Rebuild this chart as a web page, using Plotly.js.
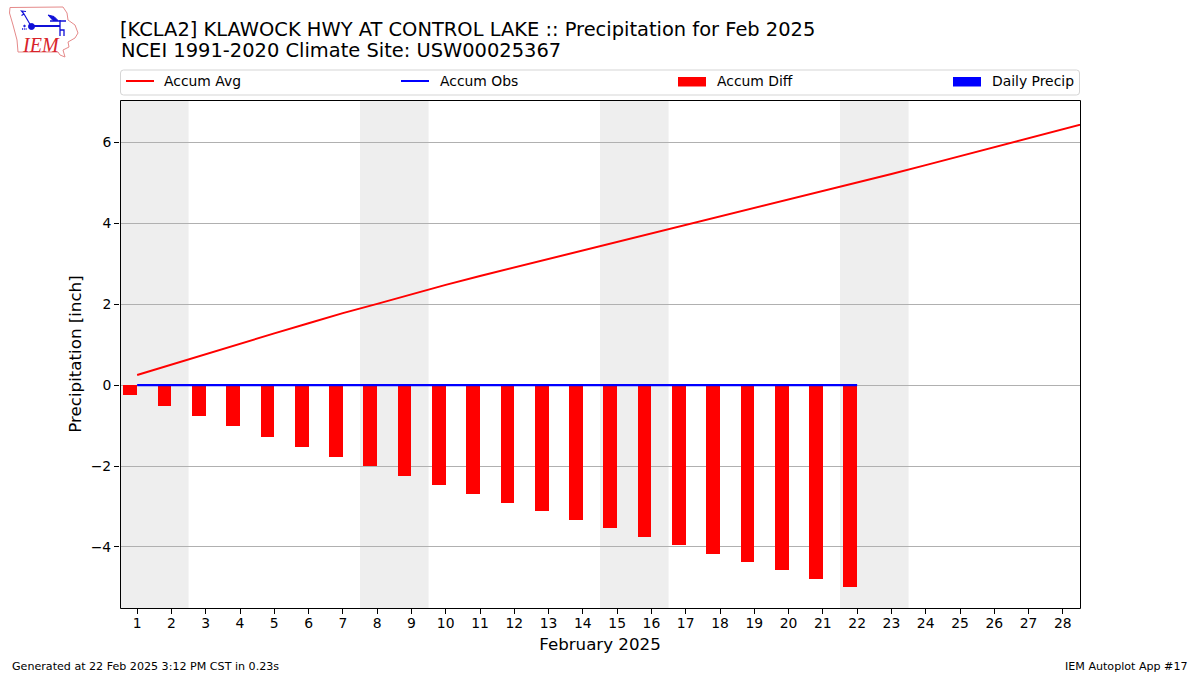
<!DOCTYPE html>
<html>
<head>
<meta charset="utf-8">
<script src="https://cdn.plot.ly/plotly-3.0.1.min.js"></script>
<style>html,body{margin:0;padding:0;background:#fff}#chart{width:1200px;height:675px}</style>
</head>
<body>
<div id="chart"></div>
<script>
const days = [1,2,3,4,5,6,7,8,9,10,11,12,13,14,15,16,17,18,19,20,21,22];
const climoDays = [1,2,3,4,5,6,7,8,9,10,11,12,13,14,15,16,17,18,19,20,21,22,23,24,25,26,27,28,29];
const accumAvg = [0.25,0.51,0.77,1.02,1.28,1.53,1.78,2.01,2.25,2.48,2.70,2.91,3.12,3.33,3.54,3.75,3.96,4.17,4.38,4.58,4.79,5.00,5.22,5.44,5.66,5.88,6.11,6.33,6.55];
const accumObs = [0,0,0,0,0,0,0,0,0,0,0,0,0,0,0,0,0,0,0,0,0,0];
const accumDiff = [-0.25,-0.51,-0.77,-1.02,-1.28,-1.53,-1.78,-2.01,-2.25,-2.48,-2.70,-2.91,-3.12,-3.33,-3.54,-3.75,-3.96,-4.17,-4.38,-4.58,-4.79,-5.00];
const dailyPrecip = [0,0,0,0,0,0,0,0,0,0,0,0,0,0,0,0,0,0,0,0,0,0];
const weekendStarts = [1,8,15,22];
const legendNames = ['Accum Avg','Accum Obs','Accum Diff','Daily Precip'];
const xTicks = climoDays.slice(0,28);
const yTicks = [-4,-2,0,2,4,6];

const FONT = 'DejaVu Sans, sans-serif';
const L=120, R=1080, T=100, B=608;
const px = x => (x-L)/(R-L);
const py = y => (B-y)/(B-T);

function label(text,x,y,size,opts){
  return Object.assign({text:text,xref:'paper',yref:'paper',x:px(x),y:py(y),showarrow:false,
    xanchor:'left',yanchor:'middle',borderpad:0,font:{family:FONT,size:size,color:'#000'}},opts||{});
}

const logoSvg = `<svg xmlns="http://www.w3.org/2000/svg" viewBox="0 0 90 65" width="360" height="260">
<path d="M10 7.5 L63 7 L67 13 L68 20 L75 25 L78 33 L75 38 L68 42 L69 47 L63 50 L65 57 L60 55 L58 52 L18 52 L17 40 L13 25 L9.5 13 Z" fill="none" stroke="#e58a8a" stroke-width="1"/>
<g stroke="#1010d8" fill="#1010d8">
<path d="M31 26 H60" stroke-width="2" fill="none"/>
<circle cx="31.5" cy="26.5" r="3"/>
<path d="M31 26 L24 14 M24 14 L21.5 11 L26 11.5 M24 14 L21.5 15.5" stroke-width="1.2" fill="none"/>
<path d="M48 15 L54 16.5 L58 20.5 L53 20.5 Z" stroke-width="1"/>
<path d="M50 21 H66 M60 20 V36 M60 30 H64 V36" stroke-width="1.3" fill="none"/>
<path d="M22 29 H27" stroke-width="1.6" stroke-dasharray="1.2 1" fill="none"/>
<circle cx="24.5" cy="26" r="0.8"/>
</g></svg>`;

const traces = [
  {type:'scatter',mode:'lines',name:legendNames[0],x:climoDays,y:accumAvg,line:{color:'#ff0000',width:2},showlegend:false,hoverinfo:'x+y'},
  {type:'bar',name:legendNames[2],x:days,y:accumDiff,width:0.4,offset:-0.4,marker:{color:'#ff0000',line:{width:0}},showlegend:false},
  {type:'bar',name:legendNames[3],x:days,y:dailyPrecip,width:0.4,offset:0,marker:{color:'#0000ff',line:{width:0}},showlegend:false},
  {type:'scatter',mode:'lines',name:legendNames[1],x:days,y:accumObs,line:{color:'#0000ff',width:2.2},showlegend:false,hoverinfo:'x+y'}
];

const shapes = weekendStarts.map(d => ({type:'rect',xref:'x',yref:'paper',x0:d-0.5,x1:d+1.5,y0:0,y1:1,
  fillcolor:'#eeeeee',line:{width:0},layer:'below'}));
// axes frame
shapes.push({type:'rect',xref:'paper',yref:'paper',x0:px(120.5),x1:px(1080.5),y0:py(608.5),y1:py(100.5),
  line:{color:'#000',width:1},fillcolor:'rgba(0,0,0,0)',layer:'above'});
const fx0=px(120.5),fx1=px(1079.5),fy0=py(95),fy1=py(70),rx=3/960,ry=3/508;
shapes.push({type:'path',xref:'paper',yref:'paper',
  path:`M ${fx0+rx} ${fy1} L ${fx1-rx} ${fy1} Q ${fx1} ${fy1} ${fx1} ${fy1-ry} L ${fx1} ${fy0+ry} Q ${fx1} ${fy0} ${fx1-rx} ${fy0} L ${fx0+rx} ${fy0} Q ${fx0} ${fy0} ${fx0} ${fy0+ry} L ${fx0} ${fy1-ry} Q ${fx0} ${fy1} ${fx0+rx} ${fy1} Z`,
  line:{color:'#d5d5d5',width:1},fillcolor:'#ffffff',layer:'above'});
shapes.push({type:'line',xref:'paper',yref:'paper',x0:px(126),x1:px(154),y0:py(81),y1:py(81),line:{color:'#ff0000',width:2}});
shapes.push({type:'line',xref:'paper',yref:'paper',x0:px(401),x1:px(429),y0:py(81),y1:py(81),line:{color:'#0000ff',width:2}});
shapes.push({type:'rect',xref:'paper',yref:'paper',x0:px(678),x1:px(706),y0:py(86.5),y1:py(77),fillcolor:'#ff0000',line:{width:0}});
shapes.push({type:'rect',xref:'paper',yref:'paper',x0:px(953),x1:px(981),y0:py(86.5),y1:py(77),fillcolor:'#0000ff',line:{width:0}});

const annotations = [
  label('NCEI 1991-2020 Climate Site: USW00025367',120,50.5,19.44),
  label(legendNames[0],163,81,13.9),
  label(legendNames[1],439,81,13.9),
  label(legendNames[2],716,81,13.9),
  label(legendNames[3],991,81,13.9),
  label('<i>IEM</i>',20.5,45.5,20,{font:{family:'Liberation Serif, serif',size:20,color:'#d8232a'}}),
  label('Generated at 22 Feb 2025 3:12 PM CST in 0.23s',11,666,11.1),
  label('IEM Autoplot App #17',1189,666,11.1,{xanchor:'right'})
];

const layout = {
  width:1200,height:675,paper_bgcolor:'#ffffff',plot_bgcolor:'#ffffff',
  margin:{l:L,r:1200-R,t:T,b:675-B,pad:0},
  showlegend:false,barmode:'overlay',bargap:0,
  font:{family:FONT,color:'#000'},
  title:{text:'[KCLA2] KLAWOCK HWY AT CONTROL LAKE :: Precipitation for Feb 2025',
    x:L/1200,xanchor:'left',xref:'container',y:1-29/675,yanchor:'middle',yref:'container',
    font:{family:FONT,size:19.44,color:'#000'},pad:{t:0,b:0,l:0,r:0}},
  xaxis:{range:[0.5,28.5],tickmode:'array',tickvals:xTicks,ticktext:xTicks.map(String),
    ticks:'outside',ticklen:5,tickwidth:1,tickcolor:'#000',showgrid:false,zeroline:false,
    showline:false,ticklabelstandoff:-3,
    tickfont:{family:FONT,size:13.9,color:'#000'},tickangle:0,
    title:{text:'February 2025',font:{family:FONT,size:16.67,color:'#000'},standoff:8},automargin:false},
  yaxis:{range:[-5.51,7.05],tickmode:'array',tickvals:yTicks,
    ticks:'outside',ticklen:5,tickwidth:1,tickcolor:'#000',showgrid:true,gridcolor:'#b0b0b0',gridwidth:1,zeroline:false,
    showline:false,
    tickfont:{family:FONT,size:13.9,color:'#000'},
    title:{text:'Precipitation [inch]',font:{family:FONT,size:16.67,color:'#000'},standoff:4},automargin:false},
  shapes:shapes,annotations:annotations,
  images:[{source:'data:image/svg+xml;charset=utf-8,'+encodeURIComponent(logoSvg),xref:'paper',yref:'paper',
    x:px(0),y:py(0),sizex:90/960,sizey:65/508,xanchor:'left',yanchor:'top',sizing:'stretch',layer:'above'}]
};
Plotly.newPlot('chart',traces,layout,{displayModeBar:false,responsive:false});
</script>
</body>
</html>
